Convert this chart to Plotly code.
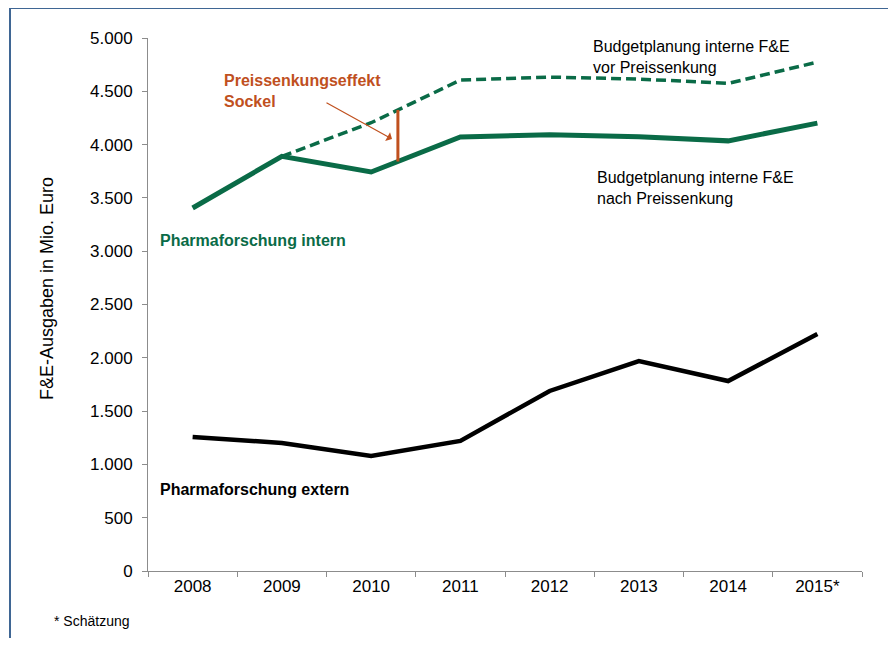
import plotly.graph_objects as go

# Daten (F&E-Ausgaben in Mio. Euro)
jahre = ["2008", "2009", "2010", "2011", "2012", "2013", "2014", "2015*"]
intern = [3405, 3890, 3743, 4071, 4092, 4074, 4035, 4201]
budget_vor = [None, 3890, 4205, 4605, 4633, 4615, 4574, 4774]
extern = [1257, 1201, 1079, 1220, 1689, 1970, 1782, 2223]

y_ticks = list(range(0, 5001, 500))
y_labels = [f"{v:,}".replace(",", ".") for v in y_ticks]

GREEN = "#0a6b47"
ORANGE = "#c0501e"
FONT = "Arial, Liberation Sans, sans-serif"

# the page body adds an 8px margin, so the figure is a bit smaller
OFF = 8
W, H = 896 - OFF, 646 - 2 * OFF
# plot area in page pixels
L, R, T, B = 148, 862, 38, 571


def px(x, y):
    return (x - L) / (R - L), (B - y) / (B - T)


# Preissenkungseffekt: Abstand zwischen den Linien kurz nach 2010
pos = 2.3
f = pos - 2
sockel_oben = budget_vor[2] + f * (budget_vor[3] - budget_vor[2])
sockel_unten = intern[2] + f * (intern[3] - intern[2])

fig = go.Figure()

fig.add_trace(go.Scatter(x=jahre, y=budget_vor, mode="lines",
                         line=dict(color=GREEN, width=3.5, dash="10px,5px")))
fig.add_trace(go.Scatter(x=jahre, y=intern, mode="lines",
                         line=dict(color=GREEN, width=5)))
fig.add_trace(go.Scatter(x=jahre, y=extern, mode="lines",
                         line=dict(color="black", width=4.5)))

fig.add_shape(type="line", xref="x", yref="y", x0=pos, x1=pos,
              y0=sockel_unten, y1=sockel_oben,
              line=dict(color=ORANGE, width=3))

# Rahmen
fx0, fy1 = px(10, 8)
fx1, fy0 = px(893, 700)
fig.add_shape(type="rect", xref="paper", yref="paper",
              x0=fx0, x1=fx1, y0=fy0, y1=fy1,
              line=dict(color="#3f6694", width=2), layer="below")

texte = [
    ("Preissenkungseffekt<br>Sockel", 222, 91, ORANGE, True, 16),
    ("Budgetplanung interne F&E<br>vor Preissenkung", 591, 57, "black", False, 16),
    ("Budgetplanung interne F&E<br>nach Preissenkung", 595, 188, "black", False, 16),
    ("Pharmaforschung intern", 158, 241, GREEN, True, 16),
    ("Pharmaforschung extern", 158, 489, "black", True, 16),
    ("* Schätzung", 52, 621, "black", False, 14),
]
for text, x, y, col, bold, size in texte:
    ax_, ay_ = px(x, y)
    fig.add_annotation(x=ax_, y=ay_, xref="paper", yref="paper",
                       text=f"<b>{text}</b>" if bold else text,
                       showarrow=False, xanchor="left", yanchor="middle",
                       align="left", font=dict(color=col, size=size, family=FONT))

# Pfeil
hx, hy = px(392, 139)
fig.add_annotation(x=hx, y=hy, xref="paper", yref="paper", text="",
                   showarrow=True, ax=-67, ay=-37, arrowhead=1,
                   arrowsize=1.4, arrowwidth=1.2, arrowcolor=ORANGE)

# Achsentitel
tx, ty = px(47, 289)
fig.add_annotation(x=tx, y=ty, xref="paper", yref="paper",
                   xanchor="center", yanchor="middle",
                   text="F&E-Ausgaben in Mio. Euro", textangle=-90,
                   showarrow=False, font=dict(size=18, color="black", family=FONT))

fig.update_xaxes(type="category", range=[-0.5, 7.5], showline=True,
                 linecolor="#8c8c8c", linewidth=1, ticks="outside",
                 tickson="boundaries", ticklen=5, tickcolor="#8c8c8c",
                 showgrid=False, zeroline=False,
                 tickfont=dict(size=17, color="black", family=FONT))
fig.update_yaxes(range=[0, 5000], tickvals=y_ticks, ticktext=y_labels,
                 showline=True, linecolor="#8c8c8c", linewidth=1,
                 ticks="outside", ticklen=5, tickcolor="#8c8c8c",
                 showgrid=False, zeroline=False, ticklabelstandoff=6,
                 tickfont=dict(size=17, color="black", family=FONT))

fig.update_layout(width=W, height=H, showlegend=False,
                  plot_bgcolor="white", paper_bgcolor="white",
                  margin=dict(l=L - OFF, r=W - (R - OFF), t=T - OFF,
                              b=H - (B - OFF)),
                  font=dict(family=FONT))

fig.write_html("out.html")
